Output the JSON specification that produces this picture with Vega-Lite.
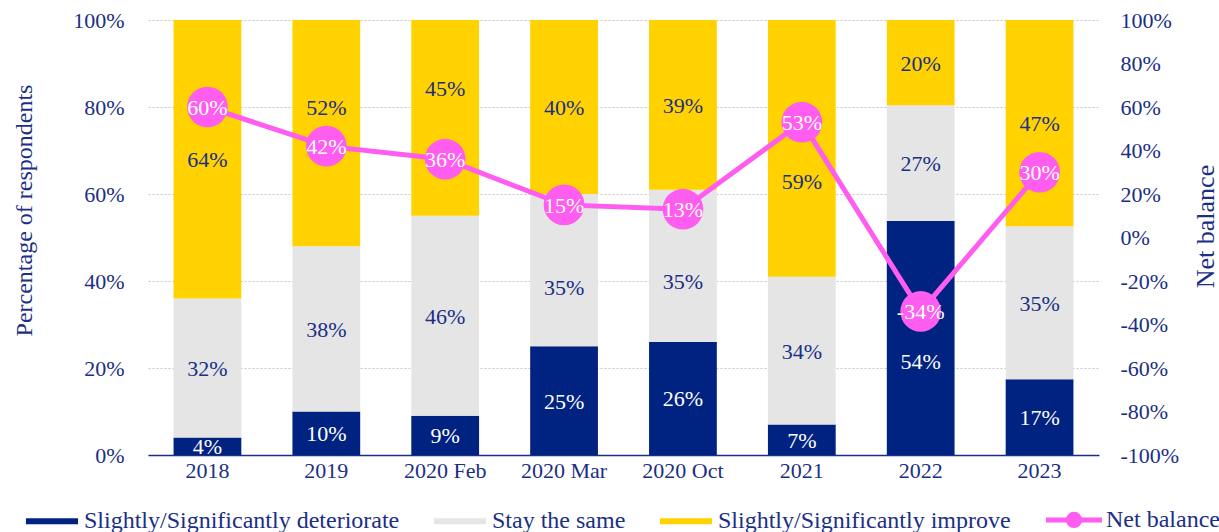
{
  "$schema": "https://vega.github.io/schema/vega-lite/v6.json",
  "width": 951,
  "height": 435,
  "autosize": "none",
  "padding": {"left": 148, "top": 20, "right": 120, "bottom": 77},
  "background": "white",
  "config": {
    "font": "Liberation Serif",
    "locale": {"number": {"decimal": ".", "thousands": ",", "grouping": [3], "currency": ["$", ""], "minus": "-"}},
    "view": {"stroke": null},
    "axis": {"labelFont": "Liberation Serif", "titleFont": "Liberation Serif", "labelFontSize": 22, "titleFontSize": 24, "titleFontWeight": "normal", "labelColor": "#1a2f85", "titleColor": "#1a2f85"},
    "legend": {"labelFont": "Liberation Serif", "labelFontSize": 24, "labelColor": "#1a2f85"}
  },
  "datasets": {
    "bars": [
      {"cat": "2018", "series": "Slightly/Significantly deteriorate", "value": 0.04},
      {"cat": "2018", "series": "Stay the same", "value": 0.32},
      {"cat": "2018", "series": "Slightly/Significantly improve", "value": 0.64},
      {"cat": "2019", "series": "Slightly/Significantly deteriorate", "value": 0.10},
      {"cat": "2019", "series": "Stay the same", "value": 0.38},
      {"cat": "2019", "series": "Slightly/Significantly improve", "value": 0.52},
      {"cat": "2020 Feb", "series": "Slightly/Significantly deteriorate", "value": 0.09},
      {"cat": "2020 Feb", "series": "Stay the same", "value": 0.46},
      {"cat": "2020 Feb", "series": "Slightly/Significantly improve", "value": 0.45},
      {"cat": "2020 Mar", "series": "Slightly/Significantly deteriorate", "value": 0.25},
      {"cat": "2020 Mar", "series": "Stay the same", "value": 0.35},
      {"cat": "2020 Mar", "series": "Slightly/Significantly improve", "value": 0.40},
      {"cat": "2020 Oct", "series": "Slightly/Significantly deteriorate", "value": 0.26},
      {"cat": "2020 Oct", "series": "Stay the same", "value": 0.35},
      {"cat": "2020 Oct", "series": "Slightly/Significantly improve", "value": 0.39},
      {"cat": "2021", "series": "Slightly/Significantly deteriorate", "value": 0.07},
      {"cat": "2021", "series": "Stay the same", "value": 0.34},
      {"cat": "2021", "series": "Slightly/Significantly improve", "value": 0.59},
      {"cat": "2022", "series": "Slightly/Significantly deteriorate", "value": 0.538},
      {"cat": "2022", "series": "Stay the same", "value": 0.266},
      {"cat": "2022", "series": "Slightly/Significantly improve", "value": 0.196},
      {"cat": "2023", "series": "Slightly/Significantly deteriorate", "value": 0.174},
      {"cat": "2023", "series": "Stay the same", "value": 0.352},
      {"cat": "2023", "series": "Slightly/Significantly improve", "value": 0.474}
    ],
    "net": [
      {"cat": "2018", "net": 0.60},
      {"cat": "2019", "net": 0.42},
      {"cat": "2020 Feb", "net": 0.36},
      {"cat": "2020 Mar", "net": 0.15},
      {"cat": "2020 Oct", "net": 0.13},
      {"cat": "2021", "net": 0.53},
      {"cat": "2022", "net": -0.34},
      {"cat": "2023", "net": 0.30}
    ]
  },
  "encoding": {
    "x": {
      "field": "cat", "type": "nominal",
      "sort": ["2018", "2019", "2020 Feb", "2020 Mar", "2020 Oct", "2021", "2022", "2023"],
      "scale": {"paddingInner": 0.43, "paddingOuter": 0.215},
      "axis": {"title": null, "labelAngle": 0, "ticks": false, "domainColor": "#1a2f85", "domainWidth": 1.5, "labelPadding": 5, "grid": false}
    }
  },
  "layer": [
    {
      "data": {"name": "bars"},
      "transform": [
        {"calculate": "indexof(['Slightly/Significantly deteriorate','Stay the same','Slightly/Significantly improve'], datum.series)", "as": "k"},
        {"stack": "value", "groupby": ["cat"], "sort": [{"field": "k", "order": "ascending"}], "as": ["v0", "v1"]},
        {"calculate": "(datum.v0 + datum.v1) / 2", "as": "mid"}
      ],
      "layer": [
        {
          "mark": {"type": "bar"},
          "encoding": {
            "y": {
              "field": "v0", "type": "quantitative",
              "scale": {"domain": [0, 1], "clamp": true, "nice": false},
              "axis": {"title": "Percentage of respondents", "orient": "left", "values": [0, 0.2, 0.4, 0.6, 0.8, 1], "format": ".0%", "grid": true, "gridDash": [2, 2], "gridColor": "#c4c4c4", "gridWidth": 1, "domain": false, "ticks": false, "labelPadding": 24, "titlePadding": 36, "titleY": 190}
            },
            "y2": {"field": "v1"},
            "color": {
              "field": "series", "type": "nominal",
              "scale": {
                "domain": ["Slightly/Significantly deteriorate", "Stay the same", "Slightly/Significantly improve", "Net balance"],
                "range": ["#002280", "#e5e5e5", "#ffd200", "#ff5cf0"]
              },
              "legend": {
                "title": null, "orient": "none", "legendX": -126.5, "legendY": 469, "direction": "horizontal", "columns": 4,
                "columnPadding": 24, "labelOffset": 1.5, "labelLimit": 500, "padding": 0,
                "symbolSize": 3136, "symbolStrokeWidth": 5,
                "symbolType": "M-0.93,-0.107L0.93,-0.107L0.93,0.107L-0.93,0.107Z",
                "encode": {
                  "symbols": {
                    "update": {
                      "size": {"value": 3136},
                      "shape": {"signal": "datum.value === 'Net balance' ? 'M-1,0L1,0M0.2,0A0.2,0.2,0,1,1,-0.2,0A0.2,0.2,0,1,1,0.2,0Z' : 'M-0.93,-0.107L0.93,-0.107L0.93,0.107L-0.93,0.107Z'"},
                      "stroke": {"signal": "datum.value === 'Net balance' ? '#ff5cf0' : 'transparent'"}
                    }
                  }
                }
              }
            }
          }
        },
        {
          "mark": {
            "type": "text", "fontSize": 22, "baseline": "middle", "align": "center",
            "dy": {"expr": "datum.series === 'Slightly/Significantly improve' ? (datum.cat === '2019' ? -25 : datum.cat === '2020 Feb' ? -29 : datum.cat === '2021' ? 34 : 1) : datum.series === 'Stay the same' ? (datum.cat === '2020 Mar' ? 18 : datum.cat === '2020 Oct' ? 16 : 1) : (datum.cat === '2022' ? 24 : 1)"}
          },
          "encoding": {
            "y": {"field": "mid", "type": "quantitative"},
            "text": {"field": "value", "type": "quantitative", "format": ".0%"},
            "color": {
              "condition": {"test": "datum.series === 'Slightly/Significantly deteriorate'", "value": "#ffffff"},
              "value": "#1a2f85"
            }
          }
        }
      ]
    },
    {
      "data": {"name": "net"},
      "layer": [
        {
          "mark": {"type": "line", "color": "#ff5cf0", "strokeWidth": 5},
          "encoding": {
            "y": {
              "field": "net", "type": "quantitative",
              "scale": {"domain": [-1, 1], "nice": false},
              "axis": {"title": "Net balance", "orient": "right", "titleAngle": 270, "titleFontSize": 26, "titleY": 206, "values": [-1, -0.8, -0.6, -0.4, -0.2, 0, 0.2, 0.4, 0.6, 0.8, 1], "format": ".0%", "grid": false, "domain": false, "ticks": false, "labelPadding": 21, "titlePadding": 40}
            }
          }
        },
        {
          "mark": {"type": "circle", "color": "#ff5cf0", "opacity": 1, "size": 1660},
          "encoding": {"y": {"field": "net", "type": "quantitative"}}
        },
        {
          "mark": {"type": "text", "fontSize": 22, "color": "#ffffff", "baseline": "middle", "align": "center", "dy": 1},
          "encoding": {
            "y": {"field": "net", "type": "quantitative"},
            "text": {"field": "net", "type": "quantitative", "format": ".0%"}
          }
        }
      ]
    }
  ],
  "resolve": {"scale": {"y": "independent"}}
}
